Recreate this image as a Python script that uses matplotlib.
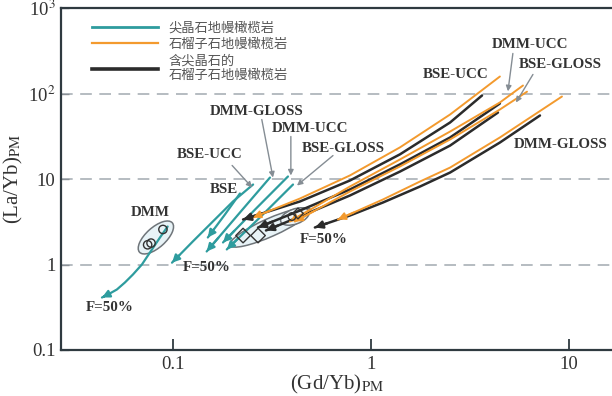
import numpy as np
import matplotlib.pyplot as plt
import matplotlib.transforms as mtransforms
from matplotlib.patches import Ellipse
from matplotlib.lines import Line2D

plt.rcParams['font.family'] = ['Liberation Serif', 'Noto Sans CJK SC']
plt.rcParams['mathtext.fontset'] = 'stix'

# 尖晶石地幔橄榄岩 熔融曲线 (Gd/Yb, La/Yb)
sp_dmm_x = [0.094, 0.0860, 0.0765, 0.0697, 0.0628, 0.0572, 0.0521, 0.0470, 0.0438]
sp_dmm_y = [2.78, 2.07, 1.38, 1.0, 0.764, 0.616, 0.510, 0.446, 0.411]
sp_bse_x = [0.218, 0.183, 0.150]
sp_bse_y = [6.77, 3.84, 2.07]
sp_bse_ucc_x = [0.254, 0.201, 0.159, 0.126, 0.0989]
sp_bse_ucc_y = [8.62, 5.46, 3.18, 1.86, 1.05]
sp_dmm_gloss_x = [0.309, 0.218, 0.148]
sp_dmm_gloss_y = [10.4, 4.06, 1.42]
sp_dmm_ucc_x = [0.381, 0.260, 0.179]
sp_dmm_ucc_y = [10.7, 4.40, 1.81]
sp_bse_gloss_x = [0.404, 0.275, 0.187]
sp_bse_gloss_y = [8.62, 3.55, 1.50]

# 石榴子石地幔橄榄岩
gt_bse_ucc_x = [4.48, 2.51, 1.40, 0.783, 0.438, 0.254]
gt_bse_ucc_y = [158, 56.8, 23.4, 11.0, 5.91, 3.55]
gt_dmm_ucc_x = [5.86, 4.48, 2.51, 1.40, 0.783, 0.390]
gt_dmm_ucc_y = [124, 78.5, 35.9, 16.9, 8.17, 3.18]
gt_bse_gloss_x = [6.14, 4.48, 2.51, 1.40, 0.783, 0.413]
gt_bse_gloss_y = [105, 65.0, 29.0, 14.0, 7.14, 3.18]
gt_dmm_gloss_x = [9.22, 4.48, 2.51, 1.77, 1.15, 0.681]
gt_dmm_gloss_y = [92.2, 30.6, 13.6, 9.35, 5.76, 3.36]

# 含尖晶石的石榴子石地幔橄榄岩
sg_bse_ucc_x = [3.64, 2.51, 1.40, 0.783, 0.438, 0.226]
sg_bse_ucc_y = [94.8, 45.8, 19.4, 9.60, 5.46, 3.36]
sg_dmm_ucc_x = [4.48, 2.51, 1.40, 0.783, 0.438, 0.269]
sg_dmm_ucc_y = [76.4, 30.6, 14.8, 7.54, 4.28, 2.71]
sg_bse_gloss_x = [4.38, 2.51, 1.40, 0.783, 0.438, 0.295]
sg_bse_gloss_y = [59.9, 24.6, 12.2, 6.41, 3.64, 2.50]
sg_dmm_gloss_x = [7.14, 4.48, 2.51, 1.77, 1.15, 0.783, 0.521]
sg_dmm_gloss_y = [55.3, 26.7, 11.9, 8.17, 5.31, 3.74, 2.71]

# 源区成分
dmm_pts_x = [0.0745, 0.0775, 0.0890]
dmm_pts_y = [1.70, 1.78, 2.57]
mix_pts_x = [0.226, 0.269]
mix_pts_y = [2.18, 2.18]
src_pts_x = [0.399, 0.428]
src_pts_y = [3.64, 3.95]

yticks = [0.1, 1, 10, 100, 1000]
ytick_labels = ['0.1', '1', '10', r'10$^2$', r'10$^3$']
xticks = [0.1, 1, 10]
xtick_labels = ['0.1', '1', '10']

teal = '#2e9c9e'
orange = '#f39a2e'
black = '#2b2b2b'
agray = '#858d94'
tcol = '#333333'

fig = plt.figure(figsize=(6.12, 3.96), dpi=100)
fig.patch.set_facecolor('white')
ax = fig.add_axes([61 / 612, 46 / 396, 551 / 612, 342 / 396])
ax.set_xscale('log')
ax.set_yscale('log')
ax.set_xlim(0.0272, 16.5)
ax.set_ylim(0.1, 1000)

for yv in [1, 10, 100]:
    ax.axhline(yv, color='#a9b0b6', lw=1.2, dashes=(7, 4.5), zorder=0)


def curve(xs, ys, color, lw, head=True):
    ax.plot(xs, ys, color=color, lw=lw, solid_capstyle='round',
            solid_joinstyle='round', zorder=3)
    if head:
        ax.annotate('', xy=(xs[-1], ys[-1]),
                    xytext=(xs[-1] * (xs[-2] / xs[-1]) ** 0.35,
                            ys[-1] * (ys[-2] / ys[-1]) ** 0.35),
                    arrowprops=dict(arrowstyle='-|>', color=color, lw=lw,
                                    mutation_scale=11, shrinkA=0, shrinkB=0),
                    zorder=4)


def blob(cx, cy, w, h, ang, fc='#e8f3f7'):
    trans = fig.dpi_scale_trans + mtransforms.ScaledTranslation(cx, cy, ax.transData)
    ax.add_patch(Ellipse((0, 0), w, h, angle=ang, transform=trans,
                         fc=fc, ec='#6f757a', lw=1.1, zorder=2))


# 源区范围
blob(0.082, 2.07, 0.44, 0.2, 42)
blob(0.309, 2.71, 0.88, 0.18, 24)
blob(0.413, 3.64, 0.3, 0.15, 20, fc='#eef5f8')

for xs, ys in [(sp_dmm_x, sp_dmm_y), (sp_bse_x, sp_bse_y),
               (sp_bse_ucc_x, sp_bse_ucc_y), (sp_dmm_gloss_x, sp_dmm_gloss_y),
               (sp_dmm_ucc_x, sp_dmm_ucc_y), (sp_bse_gloss_x, sp_bse_gloss_y)]:
    curve(xs, ys, teal, 1.6)

for xs, ys in [(sg_bse_ucc_x, sg_bse_ucc_y), (sg_dmm_ucc_x, sg_dmm_ucc_y),
               (sg_bse_gloss_x, sg_bse_gloss_y), (sg_dmm_gloss_x, sg_dmm_gloss_y)]:
    curve(xs, ys, black, 1.8)

for xs, ys in [(gt_bse_ucc_x, gt_bse_ucc_y), (gt_dmm_ucc_x, gt_dmm_ucc_y),
               (gt_bse_gloss_x, gt_bse_gloss_y), (gt_dmm_gloss_x, gt_dmm_gloss_y)]:
    curve(xs, ys, orange, 1.4)

ax.scatter(dmm_pts_x, dmm_pts_y, s=36, marker='o', fc='none', ec='#333', lw=1.0, zorder=5)
ax.scatter(mix_pts_x, mix_pts_y, s=55, marker='D', fc='none', ec='#333', lw=1.0, zorder=5)
ax.scatter(src_pts_x[:1], src_pts_y[:1], s=30, marker='o', fc='none', ec='#333', lw=1.0, zorder=5)
ax.scatter(src_pts_x[1:], src_pts_y[1:], s=30, marker='D', fc='none', ec='#333', lw=1.0, zorder=5)

# 曲线标注
lab = dict(fontsize=10.8, fontweight='bold', color=tcol, ha='center', va='center',
           family='Liberation Serif')
ax.text(0.0765, 4.06, 'DMM', **lab)
ax.text(0.181, 7.54, 'BSE', **lab)
ax.text(0.154, 19.4, 'BSE-UCC', **lab)
ax.text(0.266, 61.6, 'DMM-GLOSS', **lab)
ax.text(0.492, 39.0, 'DMM-UCC', **lab)
ax.text(0.722, 22.7, 'BSE-GLOSS', **lab)
ax.text(6.35, 374, 'DMM-UCC', **lab)
ax.text(2.69, 167, 'BSE-UCC', **lab)
ax.text(9.01, 218, 'BSE-GLOSS', **lab)
ax.text(9.11, 25.3, 'DMM-GLOSS', **lab)
ax.text(0.0481, 0.314, 'F=50%', **lab)
ax.text(0.148, 0.923, 'F=50%', **lab)
ax.text(0.579, 1.96, 'F=50%', **lab)

pointers = [((0.199, 14.4), (0.251, 7.96)),
            ((0.281, 49.6), (0.320, 10.4)),
            ((0.394, 31.4), (0.394, 11.0)),
            ((0.643, 18.8), (0.423, 8.39)),
            ((5.21, 294), (4.92, 106)),
            ((6.58, 167), (5.40, 78.5))]
for start, end in pointers:
    ax.annotate('', xy=end, xytext=start,
                arrowprops=dict(arrowstyle='-|>', color=agray, lw=1.0,
                                mutation_scale=8, shrinkA=0, shrinkB=0), zorder=6)

handles = [Line2D([], [], color=teal, lw=2.0),
           Line2D([], [], color=orange, lw=1.6),
           Line2D([], [], color=black, lw=2.6)]
leg = ax.legend(handles, ['尖晶石地幔橄榄岩', '石榴子石地幔橄榄岩', '含尖晶石的\n石榴子石地幔橄榄岩'],
                loc='upper left', bbox_to_anchor=(0.035, 0.995), frameon=False,
                handlelength=5.0, handletextpad=0.8, labelspacing=0.25,
                prop={'family': ['Noto Sans CJK SC'], 'size': 9.5})
for t in leg.get_texts():
    t.set_color('#555555')

ax.set_xticks(xticks)
ax.set_xticklabels(xtick_labels)
ax.set_yticks(yticks)
ax.set_yticklabels(ytick_labels)
ax.minorticks_off()
ax.tick_params(axis='x', direction='in', length=8, width=1.3, color='#2f3a40',
               labelsize=13.5, labelcolor=tcol, pad=4)
ax.tick_params(axis='y', direction='in', length=6, width=1.0, color='#8a9096',
               labelsize=13.5, labelcolor=tcol, pad=4)
for s in ['left', 'bottom', 'top']:
    ax.spines[s].set_color('#2f3a40')
    ax.spines[s].set_linewidth(1.6)
ax.spines['right'].set_visible(False)

ax.set_xlabel(r'(Gd/Yb)$_{\mathrm{PM}}$', fontsize=15, color=tcol, labelpad=0)
ax.set_ylabel(r'(La/Yb)$_{\mathrm{PM}}$', fontsize=15, color=tcol, labelpad=2)

fig.savefig('out.png', dpi=100, facecolor='white')
